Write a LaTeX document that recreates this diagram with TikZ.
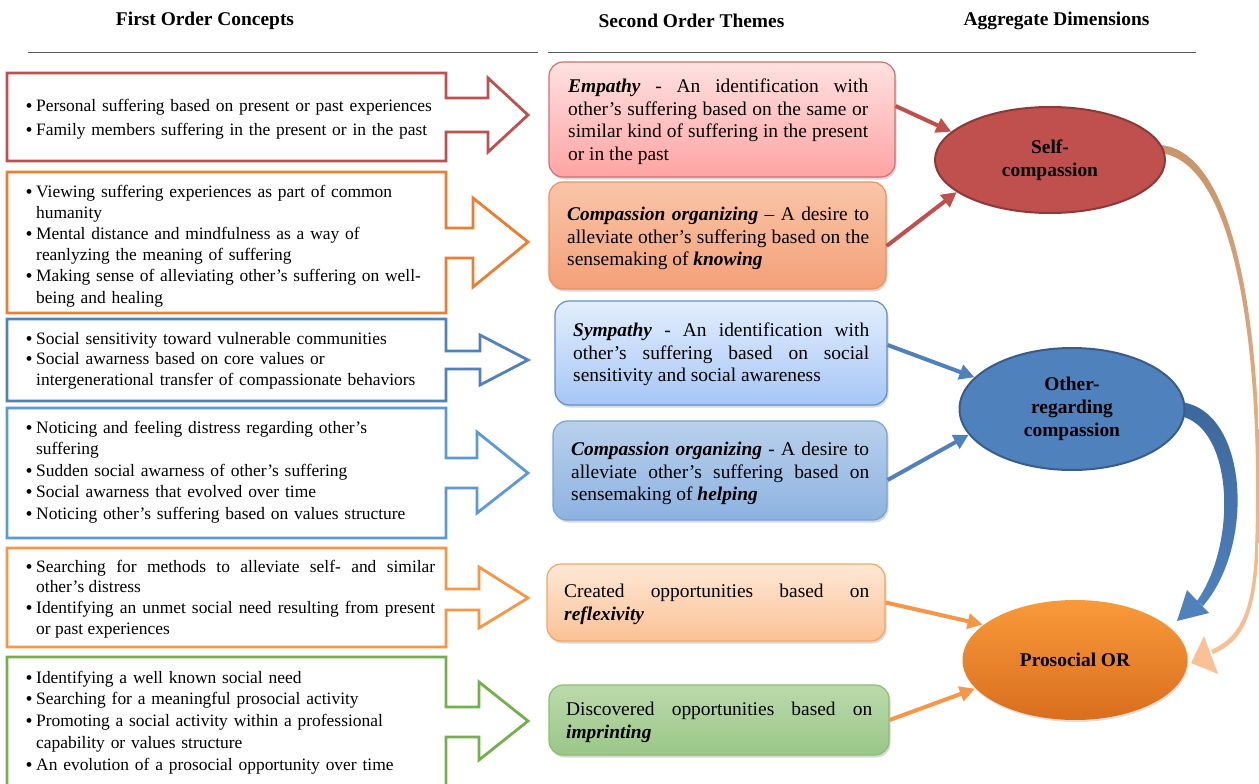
\documentclass[tikz,border=0pt]{standalone}
\usepackage{fontspec}
\setmainfont{Liberation Serif}
\usetikzlibrary{arrows.meta,shapes.geometric,shadows}
\tolerance=10000
\hyphenpenalty=10000
\definecolor{cRed}{HTML}{C0504D}
\definecolor{cRedDk}{HTML}{8C3A37}
\definecolor{cOrA}{HTML}{ED7D31}
\definecolor{cOrB}{HTML}{F79646}
\definecolor{cBlA}{HTML}{4F81BD}
\definecolor{cBlB}{HTML}{5B9BD5}
\definecolor{cBlDk}{HTML}{385D8A}
\definecolor{cGr}{HTML}{74B04A}
\definecolor{empT}{HTML}{FFE1E1}\definecolor{empB}{HTML}{FFA3A3}\definecolor{empD}{HTML}{D07070}
\definecolor{knoT}{HTML}{F9C6A8}\definecolor{knoB}{HTML}{F3A078}\definecolor{knoD}{HTML}{EE9060}
\definecolor{symT}{HTML}{E3EEFD}\definecolor{symB}{HTML}{A6C6F6}\definecolor{symD}{HTML}{5E8FCC}
\definecolor{helT}{HTML}{B9D0EC}\definecolor{helB}{HTML}{8DB2E0}\definecolor{helD}{HTML}{79A3D6}
\definecolor{creT}{HTML}{FFE8D6}\definecolor{creB}{HTML}{FAC195}\definecolor{creD}{HTML}{F5A560}
\definecolor{disT}{HTML}{BBDAAB}\definecolor{disB}{HTML}{9AC688}\definecolor{disD}{HTML}{8DBE6E}
\definecolor{tanT}{HTML}{C8946A}\definecolor{tanB}{HTML}{F9C195}
\definecolor{proT}{HTML}{F99A3A}\definecolor{proB}{HTML}{D96E1E}
\definecolor{bluT}{HTML}{3C679C}
\newcommand\lf[1]{\fontsize{17.5}{#1}\selectfont}
\newcommand\tf{\fontsize{19.5}{22.7}\selectfont}
\newcommand\ef{\fontsize{19.5}{23}\selectfont\bfseries}
\newcommand\hf{\fontsize{19.5}{23}\selectfont\bfseries}
\newcommand\bi[1]{\textbf{\textit{#1}}}
\newcommand\bfirst{\hangindent=9bp\hangafter=1\noindent\hbox to 9bp{\kern-1.5bp\raisebox{-1bp}{\fontsize{20}{20}\selectfont\textbullet}\hss}}
\newcommand\bitem{\par\bfirst}
\tikzset{
  callout/.style={line width=2.8bp, line join=miter, fill=white},
  ltext/.style={anchor=base west, inner sep=0pt, text width=420bp, align=left},
  ltextj/.style={anchor=base west, inner sep=0pt, text width=408bp, align=justify},
  themebox/.style={rounded corners=14bp, line width=1.2bp,
    drop shadow={opacity=0.3, shadow xshift=1.5bp, shadow yshift=-2.5bp}},
  ttext/.style={anchor=base west, inner sep=0pt, align=justify, font=\tf},
  dim/.style={ellipse, inner sep=0pt, align=center, font=\ef, line width=2bp},
  link/.style={line width=4bp, -{Triangle[length=15bp,width=15bp]}},
  head/.style={font=\hf, inner sep=0pt},
  hline/.style={line width=0.8bp, draw=black!65},
}
\begin{document}
\begin{tikzpicture}[x=1bp,y=-1bp]
\useasboundingbox (0,0) rectangle (1259,784);
\clip (0,0) rectangle (1259,784);

% headings
\node[head] (h1) at (205,21) {First Order Concepts};
\node[head] (h2) at (691.5,21) {Second Order Themes};
\node[head] (h3) at (1056.5,21) {Aggregate Dimensions};
\draw[hline] (28,52) -- (538,52);
\draw[hline] (548,52) -- (1196,52);

% first order callouts
\draw[callout, draw=cRed] (7,73) -- (446,73) -- (446,98) -- (488,98) -- (488,78) -- (528,115) -- (488,152) -- (488,132) -- (446,132) -- (446,161) -- (7,161) -- cycle;
\draw[callout, draw=cOrA] (7,172) -- (446,172) -- (446,228) -- (473,228) -- (473,198) -- (528,242) -- (473,287) -- (473,258) -- (446,258) -- (446,313) -- (7,313) -- cycle;
\draw[callout, draw=cBlA] (7,319) -- (446,319) -- (446,351) -- (480,351) -- (480,335) -- (528,360) -- (480,385) -- (480,369) -- (446,369) -- (446,401) -- (7,401) -- cycle;
\draw[callout, draw=cBlB] (7,408) -- (446,408) -- (446,458) -- (477,458) -- (477,432) -- (528,473) -- (477,513) -- (477,488) -- (446,488) -- (446,538) -- (7,538) -- cycle;
\draw[callout, draw=cOrB] (7,548) -- (446,548) -- (446,589) -- (479,589) -- (479,567) -- (528,598) -- (479,628) -- (479,610) -- (446,610) -- (446,647) -- (7,647) -- cycle;
\draw[callout, draw=cGr] (7,657) -- (446,657) -- (446,707) -- (479,707) -- (479,682) -- (528,721) -- (479,760) -- (479,737) -- (446,737) -- (446,800) -- (7,800) -- cycle;

\node[ltext, font=\lf{24}] (c1) at (27,112) {\bfirst Personal suffering based on present or past experiences\bitem Family members suffering in the present or in the past\par};
\node[ltext, font=\lf{21.3}] (c2) at (27,197) {\bfirst Viewing suffering experiences as part of common\newline humanity\bitem Mental distance and mindfulness as a way of\newline reanlyzing the meaning of suffering\bitem Making sense of alleviating other’s suffering on well-\newline being and healing\par};
\node[ltext, font=\lf{21}] (c3) at (27,344) {\bfirst Social sensitivity toward vulnerable communities\bitem Social awarness based on core values or\newline intergenerational transfer of compassionate behaviors\par};
\node[ltext, font=\lf{21.7}] (c4) at (27,433) {\bfirst Noticing and feeling distress regarding other’s\newline suffering\bitem Sudden social awarness of other’s suffering\bitem Social awarness that evolved over time\bitem Noticing other’s suffering based on values structure\par};
\node[ltextj, font=\lf{21}] (c5) at (27,572) {\bfirst Searching for methods to alleviate self- and similar\linebreak other’s distress\bitem Identifying an unmet social need resulting from present\linebreak or past experiences\par};
\node[ltext, font=\lf{22}] (c6) at (27,683) {\bfirst Identifying a well known social need\bitem Searching for a meaningful prosocial activity\bitem Promoting a social activity within a professional\newline capability or values structure\bitem An evolution of a prosocial opportunity over time\par};

% second order themes
\node[themebox, top color=empT, bottom color=empB, draw=empD, minimum width=346bp, minimum height=115bp] (emp) at (722,119.5) {};
\node[themebox, top color=knoT, bottom color=knoB, draw=knoD, minimum width=337bp, minimum height=107bp] (know) at (717.5,235.5) {};
\node[themebox, top color=symT, bottom color=symB, draw=symD, minimum width=332bp, minimum height=104bp] (symp) at (721,353) {};
\node[themebox, top color=helT, bottom color=helB, draw=helD, minimum width=334bp, minimum height=99bp] (help) at (720,470.5) {};
\node[themebox, top color=creT, bottom color=creB, draw=creD, minimum width=338bp, minimum height=77bp] (crea) at (716,602.5) {};
\node[themebox, top color=disT, bottom color=disB, draw=disD, minimum width=340bp, minimum height=70bp] (disc) at (719,720) {};

\node[ttext, text width=300bp] (t1) at (568,92.5) {\bi{Empathy} - An identification with\linebreak other’s suffering based on the same or\linebreak similar kind of suffering in the present\linebreak or in the past};
\node[ttext, text width=302bp] (t2) at (567,220.5) {\bi{Compassion organizing} – A desire to\linebreak alleviate other’s suffering based on the\linebreak sensemaking of \bi{knowing}};
\node[ttext, text width=296bp] (t3) at (573,336.5) {\bi{Sympathy} - An identification with\linebreak other’s suffering based on social\linebreak sensitivity and social awareness};
\node[ttext, text width=298bp] (t4) at (571,455.5) {\bi{Compassion organizing} - A desire to\linebreak alleviate other’s suffering based on\linebreak sensemaking of \bi{helping}};
\node[ttext, text width=305bp] (t5) at (564,597.5) {Created opportunities based on\linebreak \bi{reflexivity}};
\node[ttext, text width=306bp] (t6) at (566,715.5) {Discovered opportunities based on\linebreak \bi{imprinting}};

% curved arrows (drawn before ellipses)
\shade[top color=tanT, bottom color=tanB] (1160,145) .. controls (1250,152) and (1266,400) .. (1258,560) .. controls (1254,620) and (1240,643) .. (1213,654) -- (1211,650) .. controls (1236,639) and (1251,618) .. (1254.5,560) .. controls (1262,400) and (1246,163) .. (1160,153) -- cycle;
\fill[tanB] (1191,663) -- (1204,636) -- (1218,674) -- cycle;
\shade[top color=bluT, bottom color=cBlA] (1180,402) .. controls (1248,409) and (1256,545) .. (1203,606) -- (1197,601) .. controls (1238,542) and (1233,427) .. (1180,416) -- cycle;
\fill[cBlA] (1177,621) -- (1187,590) -- (1209,613) -- cycle;

% aggregate dimensions
\node[dim, fill=cRed, draw=cRedDk, minimum width=230bp, minimum height=106bp] (self) at (1050,160) {Self-\\compassion};
\node[dim, fill=cBlA, draw=cBlDk, minimum width=225bp, minimum height=122bp] (other) at (1072,409) {Other-\\regarding\\compassion};
\node[dim, top color=proT, bottom color=proB, draw=none, minimum width=225bp, minimum height=120bp,
  drop shadow={opacity=0.25, shadow xshift=1bp, shadow yshift=-2bp}] (pro) at (1075,660) {Prosocial OR};

% straight links
\draw[link, cRed] ([yshift=13.5bp]emp.east) -- (self.164);
\draw[link, cRed] ([yshift=-10.5bp]know.east) -- (self.199);
\draw[link, cBlA] ([yshift=8bp]symp.east) -- (other.162);
\draw[link, cBlA] ([yshift=-9.5bp]help.east) -- (other.194);
\draw[link, cOrB] (crea.east) -- (pro.159);
\draw[link, cOrB] (disc.east) -- (pro.196);
\end{tikzpicture}
\end{document}
